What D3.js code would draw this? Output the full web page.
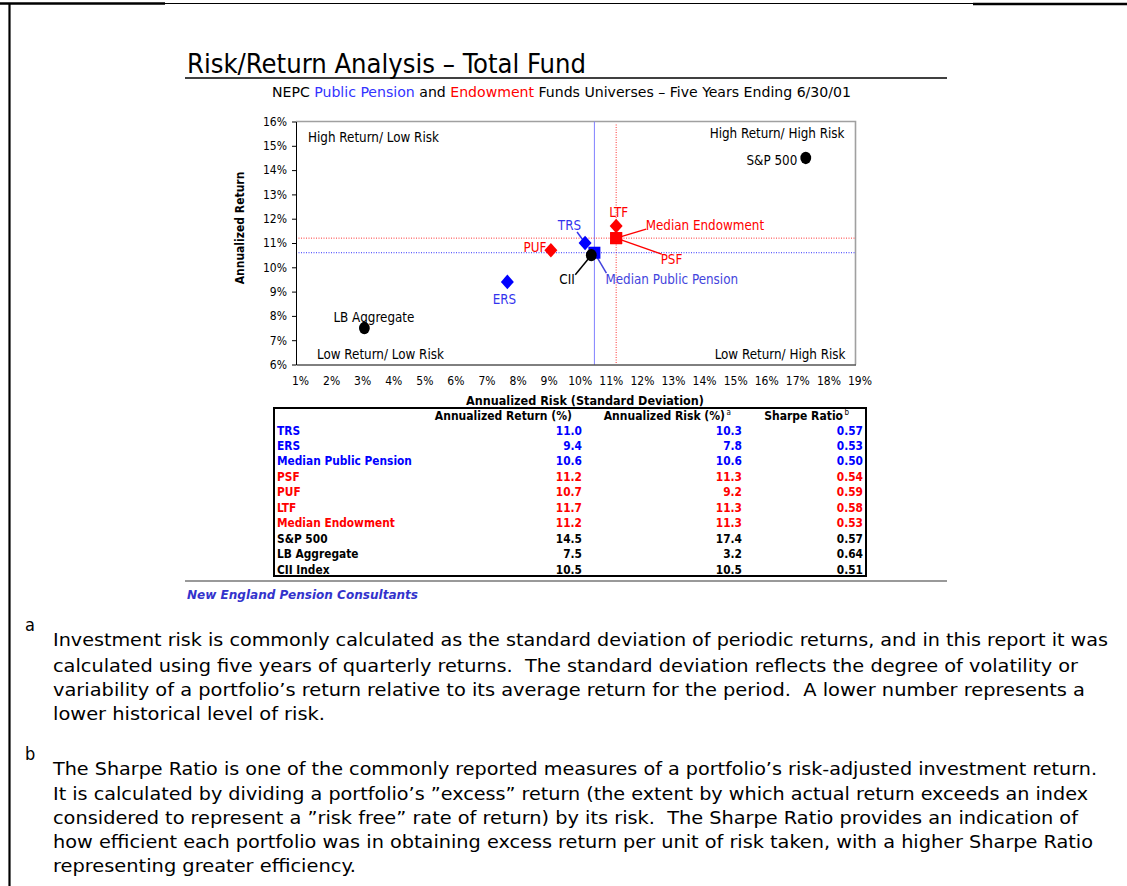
<!DOCTYPE html>
<html>
<head>
<meta charset="utf-8">
<script src="https://cdn.jsdelivr.net/npm/d3@7"></script>
<style>
  body { margin: 0; background: #fff; }
  svg text { font-family: "DejaVu Sans Condensed", "DejaVu Sans", sans-serif; font-stretch: condensed; }
  .pre { white-space: pre; }
</style>
</head>
<body>
<script>
// ---------------- DATA ----------------
const names      = ["TRS", "ERS", "Median Public Pension", "PSF", "PUF", "LTF", "Median Endowment", "S&P 500", "LB Aggregate", "CII Index"];
const chartNames = ["TRS", "ERS", "Median Public Pension", "PSF", "PUF", "LTF", "Median Endowment", "S&P 500", "LB Aggregate", "CII"];
const returns    = [11.0, 9.4, 10.6, 11.2, 10.7, 11.7, 11.2, 14.5, 7.5, 10.5];
const risks      = [10.3, 7.8, 10.6, 11.3, 9.2, 11.3, 11.3, 17.4, 3.2, 10.5];
const sharpe     = [0.57, 0.53, 0.50, 0.54, 0.59, 0.58, 0.53, 0.57, 0.64, 0.51];
const groups     = ["public", "public", "public", "endow", "endow", "endow", "endow", "index", "index", "index"];
const shapes     = ["diamond", "diamond", "square", "square", "diamond", "diamond", "square", "circle", "circle", "circle"];
const xTicks     = [1, 2, 3, 4, 5, 6, 7, 8, 9, 10, 11, 12, 13, 14, 15, 16, 17, 18, 19];
const yTicks     = [6, 7, 8, 9, 10, 11, 12, 13, 14, 15, 16];
const medianPublic = { risk: 10.6, ret: 10.6 };
const medianEndow  = { risk: 11.3, ret: 11.2 };
const quadrants  = ["High Return/ Low Risk", "High Return/ High Risk", "Low Return/ Low Risk", "Low Return/ High Risk"];
const tableHeaders = ["Annualized Return (%)", "Annualized Risk (%)", "Sharpe Ratio"];
const footA = [
  "Investment risk is commonly calculated as the standard deviation of periodic returns, and in this report it was",
  "calculated using five years of quarterly returns.  The standard deviation reflects the degree of volatility or",
  "variability of a portfolio\u2019s return relative to its average return for the period.  A lower number represents a",
  "lower historical level of risk."
];
const footB = [
  "The Sharpe Ratio is one of the commonly reported measures of a portfolio\u2019s risk-adjusted investment return.",
  "It is calculated by dividing a portfolio\u2019s \u201dexcess\u201d return (the extent by which actual return exceeds an index",
  "considered to represent a \u201drisk free\u201d rate of return) by its risk.  The Sharpe Ratio provides an indication of",
  "how efficient each portfolio was in obtaining excess return per unit of risk taken, with a higher Sharpe Ratio",
  "representing greater efficiency."
];

// ---------------- STYLE / LAYOUT ----------------
const groupColor  = { public: "#0000ff", endow: "#ff0000", index: "#000000" };
const labelColor  = { public: "#3333ee", endow: "#ff0000", index: "#000000" };
const labelLayout = {
  "TRS":                   { dx: -4,    dy: -13,  anchor: "end",    lead: [-8, -11] },
  "ERS":                   { dx: -3,    dy: 22.5, anchor: "middle" },
  "Median Public Pension": { dx: 11,    dy: 31.5, anchor: "start",  lead: [12, 20.5], color: "#4444dd" },
  "PSF":                   { dx: 44.5,  dy: 26,   anchor: "start",  lead: [45.5, 16] },
  "PUF":                   { dx: -4.5,  dy: 1.5,  anchor: "end" },
  "LTF":                   { dx: 2.5,   dy: -8.5, anchor: "middle" },
  "Median Endowment":      { dx: 29.5,  dy: -8,   anchor: "start",  lead: [30, -9] },
  "S&P 500":               { dx: -8.5,  dy: 7,    anchor: "end" },
  "LB Aggregate":          { dx: -31,   dy: -6,   anchor: "start" },
  "CII":                   { dx: -16.5, dy: 28.5, anchor: "end",    lead: [-16, 19.5] }
};

(function draw() {
const W = 1127, H = 886;
const svg = d3.select("body").append("svg").attr("width", W).attr("height", H);

// page frame lines
svg.append("line").attr("x1", 0).attr("x2", 165).attr("y1", 3.5).attr("y2", 3.5).attr("stroke", "#000").attr("stroke-width", 2.5);
svg.append("line").attr("x1", 165).attr("x2", 973).attr("y1", 3.5).attr("y2", 3.5).attr("stroke", "#000").attr("stroke-width", 1);
svg.append("line").attr("x1", 973).attr("x2", W).attr("y1", 4).attr("y2", 4).attr("stroke", "#000").attr("stroke-width", 2.5);
svg.append("line").attr("x1", 9.5).attr("x2", 9.5).attr("y1", 3).attr("y2", H).attr("stroke", "#000").attr("stroke-width", 2.2);

// title
svg.append("text").attr("x", 187).attr("y", 73).attr("font-size", 27)
  .attr("textLength", 399).attr("lengthAdjust", "spacingAndGlyphs")
  .text("Risk/Return Analysis \u2013 Total Fund");
svg.append("line").attr("x1", 185).attr("x2", 947).attr("y1", 78).attr("y2", 78).attr("stroke", "#000").attr("stroke-width", 1.3);

const sub = svg.append("text").attr("x", 272).attr("y", 97).attr("font-size", 14)
  .attr("textLength", 579).attr("lengthAdjust", "spacingAndGlyphs");
sub.append("tspan").text("NEPC ");
sub.append("tspan").attr("fill", "#3333ff").text("Public Pension");
sub.append("tspan").text(" and ");
sub.append("tspan").attr("fill", "#ff0000").text("Endowment");
sub.append("tspan").text(" Funds Universes \u2013 Five Years Ending 6/30/01");

// ---------------- CHART ----------------
const x = d3.scaleLinear().domain([1, 19]).range([296, 855.5]);
const y = d3.scaleLinear().domain([6, 16]).range([364.5, 121.5]);
const pL = x(1), pR = x(19), pT = y(16), pB = y(6);

svg.append("path").attr("d", `M${pL},${pT}H${pR}V${pB}`).attr("fill", "none").attr("stroke", "#a0a0a0").attr("stroke-width", 1.6);

svg.append("line").attr("x1", x(medianPublic.risk)).attr("x2", x(medianPublic.risk)).attr("y1", pT).attr("y2", pB)
  .attr("stroke", "#8080ff").attr("stroke-width", 1);
svg.append("line").attr("x1", x(medianEndow.risk)).attr("x2", x(medianEndow.risk)).attr("y1", pT + 3).attr("y2", pB)
  .attr("stroke", "#ff3333").attr("stroke-width", 1).attr("stroke-dasharray", "1,1.5");
svg.append("line").attr("x1", pL).attr("x2", pR).attr("y1", y(medianEndow.ret)).attr("y2", y(medianEndow.ret))
  .attr("stroke", "#ff3333").attr("stroke-width", 1).attr("stroke-dasharray", "1,1.5");
svg.append("line").attr("x1", pL).attr("x2", pR).attr("y1", y(medianPublic.ret)).attr("y2", y(medianPublic.ret))
  .attr("stroke", "#3333ff").attr("stroke-width", 1).attr("stroke-dasharray", "1,1.5");

const yAxis = svg.append("g").attr("transform", `translate(${pL},0)`)
  .call(d3.axisLeft(y).tickValues(yTicks).tickFormat(d => d + "%").tickSizeInner(4).tickSizeOuter(0).tickPadding(5));
yAxis.selectAll("text").attr("font-size", 12).attr("fill", "#000");
yAxis.selectAll("line, path").attr("stroke", "#000");

const xAxis = svg.append("g").attr("transform", `translate(0,${pB})`)
  .call(d3.axisBottom(x).tickValues(xTicks).tickFormat(d => d + "%").tickSizeInner(0).tickSizeOuter(0).tickPadding(12));
xAxis.selectAll("text").attr("font-size", 12).attr("fill", "#000").attr("dx", 4);
xAxis.selectAll("path").attr("stroke", "#000");

svg.append("text").attr("x", 585).attr("y", 404.5).attr("text-anchor", "middle").attr("font-size", 12.5).attr("font-weight", "bold")
  .text("Annualized Risk (Standard Deviation)");
svg.append("text").attr("transform", `translate(244,228) rotate(-90)`).attr("text-anchor", "middle").attr("font-size", 12).attr("font-weight", "bold")
  .text("Annualized Return");

svg.append("text").attr("x", pL + 12).attr("y", pT + 20.5).attr("font-size", 13.3).text(quadrants[0]);
svg.append("text").attr("x", pR - 11).attr("y", pT + 16.5).attr("font-size", 13.3).attr("text-anchor", "end").text(quadrants[1]);
svg.append("text").attr("x", pL + 21).attr("y", pB - 5.5).attr("font-size", 13.3).text(quadrants[2]);
svg.append("text").attr("x", pR - 10).attr("y", pB - 5.5).attr("font-size", 13.3).attr("text-anchor", "end").text(quadrants[3]);

const pts = names.map((n, i) => ({
  name: n, label: chartNames[i], group: groups[i], shape: shapes[i],
  px: x(risks[i]), py: y(returns[i])
}));

pts.forEach(p => {
  const L = labelLayout[p.label];
  if (L && L.lead) {
    svg.append("line").attr("x1", p.px).attr("y1", p.py).attr("x2", p.px + L.lead[0]).attr("y2", p.py + L.lead[1])
      .attr("stroke", L.color || labelColor[p.group]).attr("stroke-width", 1.5);
  }
});

["diamond", "square", "circle"].forEach(sh => {
  pts.filter(p => p.shape === sh).forEach(p => {
    const c = groupColor[p.group];
    if (sh === "diamond") {
      svg.append("path").attr("d", d3.symbol(d3.symbolSquare, 84)())
        .attr("transform", `translate(${p.px},${p.py}) scale(1,1.12) rotate(45)`).attr("fill", c);
    } else if (sh === "square") {
      svg.append("path").attr("d", d3.symbol(d3.symbolSquare, 144)()).attr("transform", `translate(${p.px},${p.py})`).attr("fill", c);
    } else {
      svg.append("ellipse").attr("cx", p.px).attr("cy", p.py).attr("rx", 5.4).attr("ry", 6.2).attr("fill", c);
    }
  });
});

pts.forEach(p => {
  const L = labelLayout[p.label];
  svg.append("text").attr("x", p.px + L.dx).attr("y", p.py + L.dy).attr("text-anchor", L.anchor)
    .attr("font-size", 13.3).attr("fill", L.color || labelColor[p.group]).text(p.label);
});

// ---------------- TABLE ----------------
const tX0 = 274, tX1 = 866, tY0 = 408, tY1 = 576;
svg.append("rect").attr("x", tX0).attr("y", tY0).attr("width", tX1 - tX0).attr("height", tY1 - tY0)
  .attr("fill", "none").attr("stroke", "#000").attr("stroke-width", 2);
const colRight = [582, 742, 863];
const headRight = [572, 725, 843];
const headSup = [null, "a", "b"];
const hdrY = 419.5;
tableHeaders.forEach((h, j) => {
  svg.append("text").attr("x", headRight[j]).attr("y", hdrY).attr("text-anchor", "end").attr("font-size", 12).attr("font-weight", "bold").text(h);
  if (headSup[j]) {
    svg.append("text").attr("x", headRight[j] + 1.5).attr("y", hdrY - 4.5).attr("font-size", 8).text(headSup[j]);
  }
});
const rowY = d3.scaleLinear().domain([0, names.length - 1]).range([434.5, 573.5]);
names.forEach((n, i) => {
  const c = groupColor[groups[i]];
  const ry = rowY(i);
  svg.append("text").attr("x", 277).attr("y", ry).attr("font-size", 11.8).attr("font-weight", "bold").attr("fill", c).text(n);
  [returns[i].toFixed(1), risks[i].toFixed(1), sharpe[i].toFixed(2)].forEach((v, j) => {
    svg.append("text").attr("x", colRight[j]).attr("y", ry).attr("text-anchor", "end").attr("font-size", 11.8).attr("font-weight", "bold").attr("fill", c).text(v);
  });
});

svg.append("line").attr("x1", 185).attr("x2", 947).attr("y1", 581).attr("y2", 581).attr("stroke", "#777").attr("stroke-width", 1.5);
svg.append("text").attr("x", 187).attr("y", 599).attr("font-size", 11.5).attr("font-weight", "bold").attr("font-style", "italic")
  .attr("fill", "#3333cc").style("font-family", "'DejaVu Sans', sans-serif").style("font-stretch", "normal")
  .attr("textLength", 231).attr("lengthAdjust", "spacingAndGlyphs").text("New England Pension Consultants");

// ---------------- FOOTNOTES ----------------
const footFont = 18;
const aWidths = [1055, 1025, 1032, 272];
const bWidths = [1044, 1035, 1025, 1040, 303];
const aY = [646, 672, 696, 720];
const bY = [775, 800, 824, 848, 872];
svg.append("text").attr("x", 25).attr("y", 631).attr("font-size", footFont).text("a");
svg.append("text").attr("x", 25).attr("y", 760).attr("font-size", footFont).text("b");
footA.forEach((t, i) => {
  svg.append("text").attr("class", "pre").attr("x", 53).attr("y", aY[i]).attr("font-size", footFont)
    .attr("textLength", aWidths[i]).attr("lengthAdjust", "spacingAndGlyphs").text(t);
});
footB.forEach((t, i) => {
  svg.append("text").attr("class", "pre").attr("x", 53).attr("y", bY[i]).attr("font-size", footFont)
    .attr("textLength", bWidths[i]).attr("lengthAdjust", "spacingAndGlyphs").text(t);
});
})();
</script>
</body>
</html>
